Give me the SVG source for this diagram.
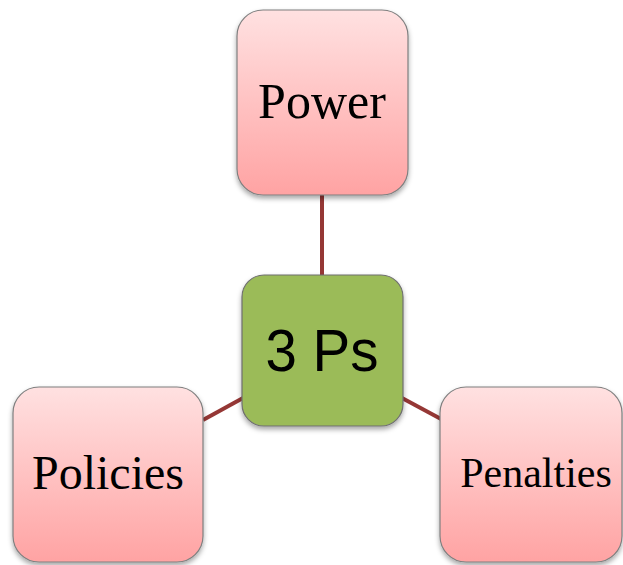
<svg xmlns="http://www.w3.org/2000/svg" width="623" height="565" viewBox="0 0 623 565">
<defs>
<linearGradient id="pink" x1="0" y1="0" x2="0" y2="1">
<stop offset="0" stop-color="#ffe1e1"/>
<stop offset="1" stop-color="#ffa3a3"/>
</linearGradient>
<filter id="sh" x="-10%" y="-10%" width="120%" height="125%">
<feDropShadow dx="0" dy="3" stdDeviation="2.5" flood-color="#000" flood-opacity="0.35"/>
</filter>
</defs>
<style>
.p{fill:url(#pink);stroke:#7f7f7f;stroke-width:1.2;filter:url(#sh)}
.g{fill:#9bbb59;stroke:#6f6f6f;stroke-width:1.2;filter:url(#sh)}
.t{font-family:"Liberation Serif","Times New Roman",serif;fill:#000;text-anchor:middle}
.c{font-family:"Liberation Sans",Arial,sans-serif;fill:#000;text-anchor:middle}
.l{stroke:#953735;stroke-width:4;fill:none}
</style>
<g id="connectors">
<line class="l" x1="322" y1="195" x2="322" y2="276"/>
<line class="l" x1="243" y1="398" x2="203" y2="420"/>
<line class="l" x1="402" y1="398" x2="441" y2="419"/>
</g>
<g id="power">
<rect class="p" x="237" y="10" width="171" height="185" rx="26"/>
<text class="t" x="322" y="118" font-size="50">Power</text>
</g>
<g id="policies">
<rect class="p" x="13" y="387" width="190" height="175" rx="26"/>
<text class="t" x="108" y="489" font-size="48">Policies</text>
</g>
<g id="penalties">
<rect class="p" x="440" y="387" width="182" height="175" rx="26"/>
<text class="t" x="536" y="487" font-size="42">Penalties</text>
</g>
<g id="center">
<rect class="g" x="242" y="275" width="161" height="151" rx="22"/>
<text class="c" x="322" y="371" font-size="60" textLength="113" lengthAdjust="spacingAndGlyphs">3 Ps</text>
</g>
</svg>
